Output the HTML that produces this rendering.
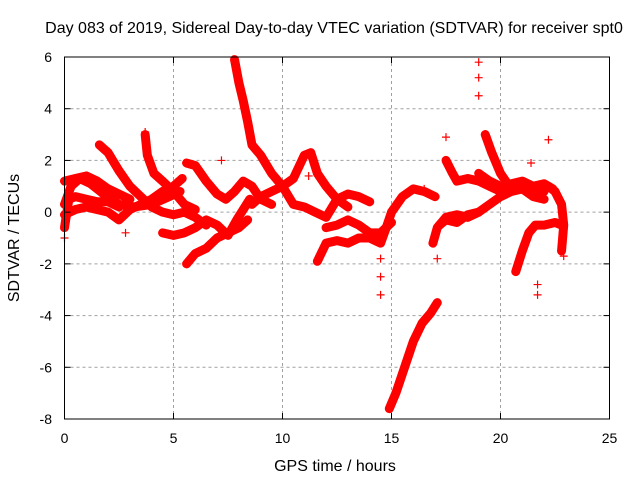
<!DOCTYPE html>
<html><head><meta charset="utf-8"><style>
body{margin:0;background:#fff}
svg text{font-family:"Liberation Sans",sans-serif;font-size:14px;fill:#000}
svg text.big{font-size:16px}
</style></head><body>
<svg id="chart" width="640" height="480" viewBox="0 0 640 480" xmlns="http://www.w3.org/2000/svg">
<rect width="640" height="480" fill="#fff"/>
<text class="big" x="334" y="33" text-anchor="middle">Day 083 of 2019, Sidereal Day-to-day VTEC variation (SDTVAR) for receiver spt0</text>
<text class="big" x="335" y="471" text-anchor="middle">GPS time / hours</text>
<text class="big" transform="translate(19,238) rotate(-90)" text-anchor="middle">SDTVAR / TECUs</text>
<g id="grid"></g>
<g id="marks"></g>
<rect x="64.5" y="57" width="545" height="362" fill="none" stroke="#000" stroke-width="1"/>
<g id="ticks"></g>
</svg>
<script>
const xTicks=[0,5,10,15,20,25];
const yTicks=[-8,-6,-4,-2,0,2,4,6];
const trackA=[[0,0.3],[0.3,1.0],[0.7,1.3],[1.2,1.1],[1.8,0.7],[2.5,0.3],[3.2,0.2],[4.0,0.3],[4.8,0.6],[5.3,0.8]];
const trackB=[[0,-0.1],[0.5,0.1],[1,0.2],[2,0.0],[2.5,-0.3],[3,0.1],[3.5,0.3],[4,0.5],[4.5,0.8],[5,1.0],[5.4,1.3]];
const trackC=[[1.6,2.6],[2,2.3],[2.5,1.6],[3,1.0],[3.5,0.6],[4,0.2],[4.5,0.0],[5,-0.1],[5.5,0.0],[6,-0.2],[6.5,-0.5]];
const trackD=[[3.7,3.0],[3.8,2.2],[4.1,1.5],[4.5,1.2],[5,0.8],[5.5,0.3],[6,0.1]];
const trackE=[[5.6,1.9],[6,1.8],[6.5,1.2],[7,0.7],[7.4,0.5],[7.8,0.8],[8.2,1.2],[8.6,1.0],[9,0.5],[9.5,0.3]];
const trackF=[[4.5,-0.8],[5,-0.9],[5.5,-0.8],[6,-0.6],[6.5,-0.3],[7,-0.5],[7.5,-0.9],[7.9,-0.3],[8.5,0.5]];
const trackG=[[5.6,-2.0],[6,-1.6],[6.5,-1.4],[7,-1.0],[7.5,-0.8],[8,-0.6],[8.4,-0.3]];
const trackH=[[7.8,5.9],[8,5.0],[8.2,4.3],[8.4,3.5],[8.6,2.6],[9,2.2],[9.5,1.5],[10,1.0],[10.5,0.3],[11,0.2],[11.5,0.0],[12,-0.2],[12.5,0.5],[13,0.7],[13.5,0.6],[14,0.4]];
const trackI=[[8.6,0.3],[9,0.6],[9.5,0.8],[10,1.0],[10.5,1.3],[11,2.2],[11.3,2.3],[11.6,1.5],[12,1.0],[12.5,0.5],[13,0.2]];
const trackJ=[[11.6,-1.9],[12,-1.2],[12.5,-1.1],[13,-1.2],[13.5,-1.0],[14,-1.0],[14.5,-1.2],[14.8,-0.5],[15,0],[15.5,0.6],[16,0.9],[16.5,0.8],[17,0.6]];
const trackK=[[12,-0.6],[12.5,-0.5],[13,-0.3],[13.5,-0.5],[14,-0.8],[14.5,-0.8],[15,-0.4]];
const trackL=[[14.9,-7.6],[15.2,-7.0],[15.6,-6.0],[16,-5.0],[16.4,-4.3],[16.8,-3.9],[17.1,-3.5]];
const trackM=[[16.9,-1.2],[17.1,-0.6],[17.5,-0.2],[18,-0.1],[18.5,-0.2],[19,0.0],[19.5,0.3],[20,0.6],[20.5,0.8],[21,0.9],[21.5,0.8],[22,0.8]];
const trackN=[[19.3,3.0],[19.6,2.3],[20,1.5],[20.4,1.0],[21,0.9],[21.5,0.6],[22,0.5]];
const trackO=[[17.5,2.0],[17.8,1.5],[18,1.2],[18.5,1.3],[19,1.2],[19.5,1.0],[20,0.8]];
const trackP=[[20.7,-2.3],[21,-1.5],[21.3,-0.8],[21.6,-0.5],[22,-0.5],[22.5,-0.4],[22.8,-0.5]];
const trackQ=[[22.2,1.0],[22.5,0.8],[22.8,0.3],[22.9,-0.5],[22.8,-1.5]];
const trackR=[[0,1.2],[0.5,1.3],[1,1.4],[1.5,1.2],[2,0.9],[2.5,0.7],[3,0.5]];
const trackS=[[0,-0.6],[0.2,0.5],[0.5,0.6],[1,0.5],[1.5,0.4],[2,0.4],[2.5,0.2]];
const trackU=[[17.2,-0.5],[17.5,-0.3],[18,-0.4],[18.5,-0.1],[19,0.0]];
const trackV=[[19,1.5],[19.5,1.2],[20,1.0],[20.5,1.1],[21,1.2],[21.5,1.0],[22,1.1],[22.4,0.9]];
const tracks=[trackA,trackB,trackC,trackD,trackE,trackF,trackG,trackH,trackI,trackJ,trackK,trackL,trackM,trackN,trackO,trackP,trackQ,trackR,trackS,trackU,trackV];
const outliers=[[0,-1.0],[3.7,3.1],[14.5,-1.8],[14.5,-2.5],[14.5,-3.2],[17.1,-1.8],[19.0,5.8],[19.0,5.2],[19.0,4.5],[17.5,2.9],[21.7,-2.8],[21.7,-3.2],[22.2,2.8],[21.4,1.9],[22.9,-1.7],[16.5,0.9],[11.2,1.4],[2.8,-0.8],[7.2,2.0]];
const X=t=>64.5+t*21.8;
const Y=v=>57+(6-v)*(362/14);
const NS="http://www.w3.org/2000/svg";
const grid=document.getElementById('grid'),ticks=document.getElementById('ticks'),marks=document.getElementById('marks');
function mk(tag,at,parent){const e=document.createElementNS(NS,tag);for(const k in at)e.setAttribute(k,at[k]);parent.appendChild(e);return e;}
xTicks.forEach(t=>{
 if(t>0&&t<25){const g=mk('line',{x1:X(t),x2:X(t),y1:57,y2:419,stroke:'#a0a0a0','stroke-dasharray':'3,3'},grid);
 
 }
 mk('line',{x1:X(t),x2:X(t),y1:419,y2:413,stroke:'#000'},ticks);
 mk('line',{x1:X(t),x2:X(t),y1:57,y2:63,stroke:'#000'},ticks);
 const l=mk('text',{x:X(t),y:443,'text-anchor':'middle'},ticks);l.textContent=t;
 
 
});
yTicks.forEach(v=>{
 if(v>-8&&v<6){const g=mk('line',{x1:64.5,x2:609.5,y1:Y(v),y2:Y(v),stroke:'#a0a0a0','stroke-dasharray':'3,3'},grid);
 
 }
 mk('line',{x1:64.5,x2:70.5,y1:Y(v),y2:Y(v),stroke:'#000'},ticks);
 mk('line',{x1:609.5,x2:603.5,y1:Y(v),y2:Y(v),stroke:'#000'},ticks);
 const l=mk('text',{x:52,y:Y(v)+5,'text-anchor':'end'},ticks);l.textContent=v;
 
 
});
function plus(t,v){
 const p=mk('path',{d:`M${X(t)-4},${Y(v)}h8M${X(t)},${Y(v)-4}v8`,stroke:'#f00','stroke-width':1.2},marks);
 
 
}
tracks.forEach(tr=>{
 const pl=mk('polyline',{points:tr.map(p=>X(p[0])+','+Y(p[1])).join(' '),fill:'none',stroke:'#f00','stroke-width':9,'stroke-linejoin':'round','stroke-linecap':'round'},marks);
 
 
 tr.forEach(p=>plus(p[0],p[1]));
});
outliers.forEach(p=>plus(p[0],p[1]));
</script>
</body></html>
